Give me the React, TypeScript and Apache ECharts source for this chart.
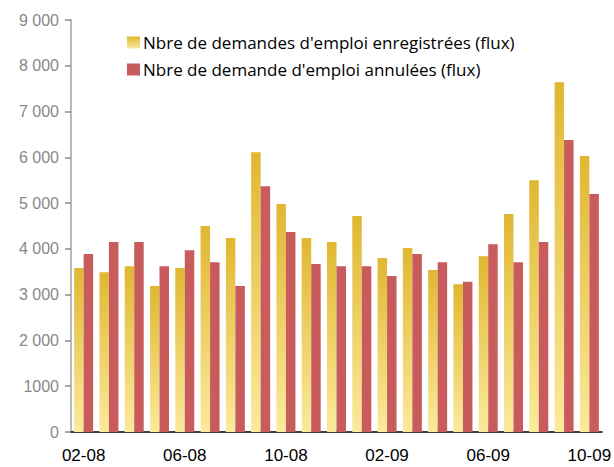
import React, { useEffect, useRef } from "react";
import * as echarts from "echarts";

const categories = [
  "02-08", "03-08", "04-08", "05-08", "06-08", "07-08", "08-08", "09-08", "10-08", "11-08", "12-08",
  "01-09", "02-09", "03-09", "04-09", "05-09", "06-09", "07-09", "08-09", "09-09", "10-09",
];
const enregistrees = [
  3580, 3490, 3620, 3190, 3580, 4500, 4240, 6110, 4980, 4240, 4150,
  4720, 3800, 4020, 3540, 3230, 3840, 4760, 5500, 7640, 6030,
];
const annulees = [
  3890, 4150, 4150, 3620, 3970, 3710, 3190, 5370, 4370, 3670, 3620,
  3620, 3410, 3890, 3710, 3280, 4100, 3710, 4150, 6380, 5200,
];
const yTickLabels: Record<number, string> = {
  0: "0", 1000: "1000", 2000: "2 000", 3000: "3 000", 4000: "4 000",
  5000: "5 000", 6000: "6 000", 7000: "7 000", 8000: "8 000", 9000: "9 000",
};
const seriesNames = [
  "Nbre de demandes d'emploi enregistrées (flux)",
  "Nbre de demande d'emploi annulées (flux)",
];

export default function App() {
  const ref = useRef<HTMLDivElement>(null);
  useEffect(() => {
    if (!ref.current) return;
    const chart = echarts.init(ref.current, undefined, { renderer: "svg" });
    const font = "'Liberation Sans', Arial, sans-serif";
    chart.setOption({
      animation: false,
      backgroundColor: "#ffffff",
      textStyle: { fontFamily: font },
      grid: { left: 71, right: 8, top: 20, bottom: 35, containLabel: false },
      legend: {
        orient: "vertical",
        left: 122,
        top: 29,
        itemWidth: 13,
        itemHeight: 12,
        itemGap: 10,
        icon: "rect",
        textStyle: { fontSize: 17, color: "#000", fontFamily: "'Open Sans', sans-serif", padding: [0, 0, 0, -2] },
        data: seriesNames,
      },
      xAxis: {
        type: "category",
        data: categories,
        boundaryGap: true,
        axisLine: { lineStyle: { color: "#000", width: 1.5 } },
        axisTick: { interval: 3, length: 6, lineStyle: { color: "#000", width: 1.5 } },
        axisLabel: { interval: 3, fontSize: 17, color: "#000", margin: 15, fontFamily: font },
      },
      yAxis: {
        type: "value",
        min: 0,
        max: 9000,
        interval: 1000,
        splitLine: { show: false },
        axisLine: { show: true, lineStyle: { color: "#b8b8b8", width: 2 } },
        axisTick: { show: true, length: 6, lineStyle: { color: "#8a8a8a", width: 1.5 } },
        axisLabel: {
          fontSize: 16,
          color: "#888888",
          margin: 12,
          fontFamily: font,
          formatter: (v: number) => yTickLabels[v] ?? String(v),
        },
      },
      series: [
        {
          name: seriesNames[0],
          type: "bar",
          data: enregistrees,
          barWidth: 9.5,
          barGap: "0%",
          itemStyle: {
            color: new echarts.graphic.LinearGradient(0, 0, 0, 1, [
              { offset: 0, color: "#E0B731" },
              { offset: 1, color: "#FBEA9C" },
            ]),
          },
        },
        {
          name: seriesNames[1],
          type: "bar",
          data: annulees,
          barWidth: 9.5,
          barGap: "0%",
          itemStyle: { color: "#C85C5C" },
        },
      ],
    });
    return () => chart.dispose();
  }, []);
  return (
    <div
      ref={ref}
      style={{ position: "absolute", left: 0, top: 0, width: 614, height: 467 }}
    />
  );
}
